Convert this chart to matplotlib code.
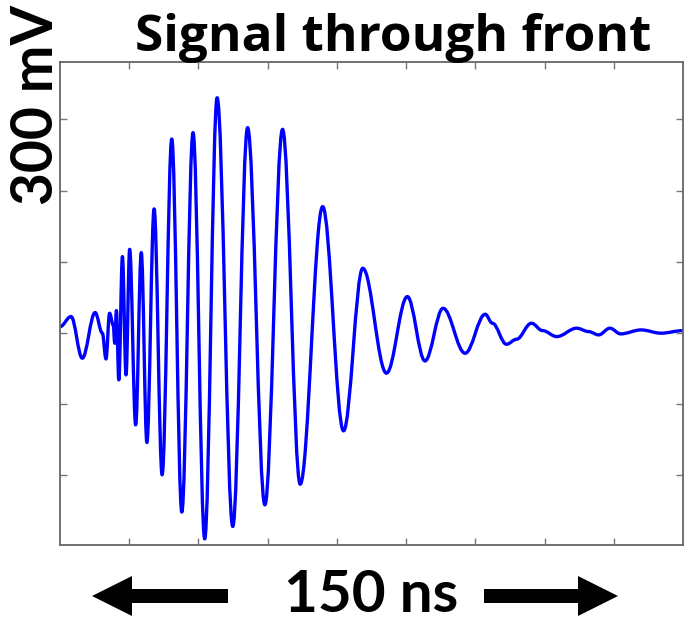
import numpy as np
import matplotlib
matplotlib.use("Agg")
import matplotlib.pyplot as plt
from matplotlib.path import Path
from matplotlib.patches import PathPatch, FancyArrow

# turning points of the trace (time in ns, signal in mV)
time_ns = [0.0, 2.66, 5.37, 8.46, 10.2, 11.07, 11.94, 12.81, 13.19, 13.58,
           14.16, 15.03, 15.90, 16.77, 18.22, 19.57, 20.92, 22.66, 24.59, 26.91,
           29.33, 32.03, 34.84, 37.83, 41.60, 45.17, 49.33, 53.58, 57.83, 63.24,
           68.27, 72.90, 78.61, 83.63, 87.88, 92.23, 97.54, 102.38, 104.1, 107.5,
           109.9, 113.5, 116.2, 119.6, 124.4, 127.3, 129.7, 132.4, 135.0, 139.9,
           144.7, 150.0]
signal_mv = [4.4, 11.5, -17.8, 14.3, -0.2, -18.3, 13.8, 5.6, -7.3, 15.7,
             -33.0, 53.6, -29.5, 58.7, -64.6, 56.4, -77.0, 87.1, -99.7, 136.2,
             -125.9, 140.7, -144.7, 165.2, -136.0, 144.2, -120.8, 143.0, -106.3, 88.7,
             -68.8, 45.4, -28.3, 25.5, -19.7, 17.3, -14.3, 13.1, 6.8, -8.0,
             -4.5, 6.8, 1.6, -2.6, 3.3, 0.9, -1.4, 3.3, -0.7, 2.1,
             -0.2, 1.6]

title = "Signal through front"
ylabel = "300 mV"
xlabel = "150 ns"

fig = plt.figure(figsize=(6.85, 6.23), dpi=100)
ax = fig.add_axes([60 / 685, 78 / 623, 623 / 685, 483 / 623])

# smooth trace: cubic segments with flat tangents at each turning point
k = 0.364
verts = [(time_ns[0], signal_mv[0])]
codes = [Path.MOVETO]
for i in range(1, len(time_ns)):
    t0, v0 = time_ns[i - 1], signal_mv[i - 1]
    t1, v1 = time_ns[i], signal_mv[i]
    dt = t1 - t0
    verts += [(t0 + k * dt, v0), (t1 - k * dt, v1), (t1, v1)]
    codes += [Path.CURVE4] * 3
ax.add_patch(PathPatch(Path(verts, codes), fill=False, edgecolor="#0000ff",
                       lw=2.4, capstyle="round", joinstyle="round"))

ax.set_xlim(0, 150)
ax.set_ylim(-149, 190.3)
ax.set_xticks(np.arange(1, 9) * 150 / 9)
ax.set_yticks([-100, -50, 0, 50, 100, 150])
ax.tick_params(direction="in", length=5, width=1, color="#777777",
               top=True, right=True, labelbottom=False, labelleft=False)
for s in ax.spines.values():
    s.set_color("#666666")
    s.set_linewidth(1.3)

fig.text(393 / 685, 1 - 51 / 623, title, ha="center", va="baseline",
         fontsize=37, fontweight="bold", family="Open Sans")
fig.text(37 / 685, 1 - 205 / 623, ylabel, ha="center", va="bottom",
         rotation=90, fontsize=41, fontweight="bold", family="Lato")
fig.text(371 / 685, 1 - 596 / 623, xlabel, ha="center", va="center",
         fontsize=42, fontweight="bold", family="Lato")

# arrows either side of the time span, sized in inches on the figure
arr = dict(width=0.14, head_width=0.40, head_length=0.40,
           length_includes_head=True, color="black", lw=0,
           transform=fig.dpi_scale_trans)
fig.patches.append(FancyArrow(2.28, 0.27, -1.36, 0, **arr))
fig.patches.append(FancyArrow(4.84, 0.27, 1.34, 0, **arr))

fig.savefig("out.png", dpi=100)
